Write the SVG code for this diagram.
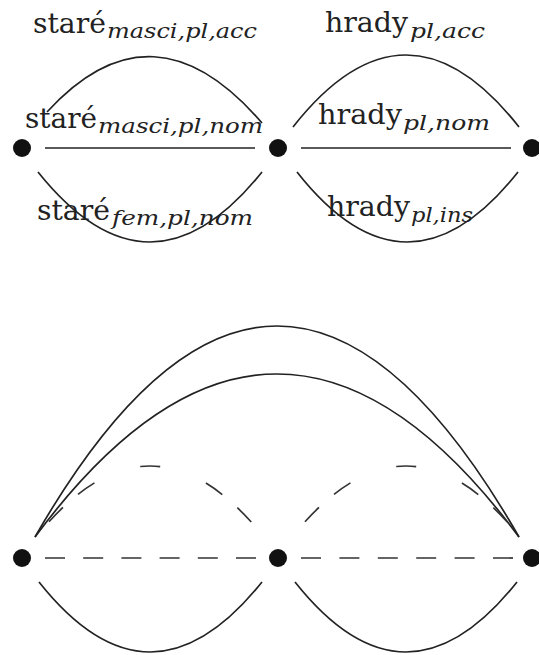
<svg xmlns="http://www.w3.org/2000/svg" width="539" height="655" viewBox="0 0 539 655">
<style>
.bg{fill:#fff}
.n{fill:#111}
.e{fill:none;stroke:#222;stroke-width:1.7}
.d{fill:none;stroke:#333;stroke-width:1.7}
.m{font-family:"DejaVu Serif","Liberation Serif",serif;font-size:27px;fill:#222}
.s{font-family:"DejaVu Serif","Liberation Serif",serif;font-style:italic;font-size:20px;fill:#222}
</style>
<rect class="bg" x="0" y="0" width="539" height="655"/>
<g id="connectors">
  <line class="e" x1="45" y1="148" x2="255" y2="148"/>
  <line class="e" x1="301" y1="148" x2="511" y2="148"/>
  <path class="e" d="M47,112 Q153,-4 262,123"/>
  <path class="e" d="M38,172 Q150,312 262,172"/>
  <path class="e" d="M293,127 Q406,-17 519,127"/>
  <path class="e" d="M297,172 Q407,312 518,172"/>
  <path class="e" d="M35,537 Q277,115 519,537"/>
  <path class="e" d="M35,537 Q277,211 519,537"/>
  <path class="e" d="M39,582 Q150,722 262,582"/>
  <path class="e" d="M295,582 Q406,722 517,582"/>
  <line class="d" x1="45" y1="558" x2="256" y2="558" stroke-dasharray="20 18.2"/>
  <line class="d" x1="301" y1="558" x2="513" y2="558" stroke-dasharray="20 18.4"/>
  <path class="d" d="M36,537 Q150,395 264,537" stroke-dasharray="0 20 20 20 20 49 20 49 20 20 20 60"/>
  <path class="d" d="M292,537 Q406,395 520,537" stroke-dasharray="0 20 20 20 20 49 20 49 20 20 20 60"/>
</g>
<g id="node-a1"><circle class="n" cx="22" cy="148" r="9"/></g>
<g id="node-a2"><circle class="n" cx="278" cy="148" r="9"/></g>
<g id="node-a3"><circle class="n" cx="532" cy="148" r="9"/></g>
<g id="node-b1"><circle class="n" cx="22" cy="558" r="9"/></g>
<g id="node-b2"><circle class="n" cx="278" cy="558" r="9"/></g>
<g id="node-b3"><circle class="n" cx="532" cy="558" r="9"/></g>
<g id="labels">
  <text class="m" x="33" y="33" textLength="73" lengthAdjust="spacingAndGlyphs">staré</text>
  <text class="s" x="107" y="38" textLength="150" lengthAdjust="spacingAndGlyphs">masci,pl,acc</text>
  <text class="m" x="325" y="32" textLength="83" lengthAdjust="spacingAndGlyphs">hrady</text>
  <text class="s" x="410" y="38" textLength="75" lengthAdjust="spacingAndGlyphs">pl,acc</text>
  <text class="m" x="25" y="128" textLength="72" lengthAdjust="spacingAndGlyphs">staré</text>
  <text class="s" x="98" y="133" textLength="165" lengthAdjust="spacingAndGlyphs">masci,pl,nom</text>
  <text class="m" x="318" y="124" textLength="84" lengthAdjust="spacingAndGlyphs">hrady</text>
  <text class="s" x="403" y="130" textLength="87" lengthAdjust="spacingAndGlyphs">pl,nom</text>
  <text class="m" x="37" y="220" textLength="73" lengthAdjust="spacingAndGlyphs">staré</text>
  <text class="s" x="112" y="225" textLength="141" lengthAdjust="spacingAndGlyphs">fem,pl,nom</text>
  <text class="m" x="327" y="216" textLength="83" lengthAdjust="spacingAndGlyphs">hrady</text>
  <text class="s" x="411" y="222" textLength="62" lengthAdjust="spacingAndGlyphs">pl,ins</text>
</g>
</svg>
